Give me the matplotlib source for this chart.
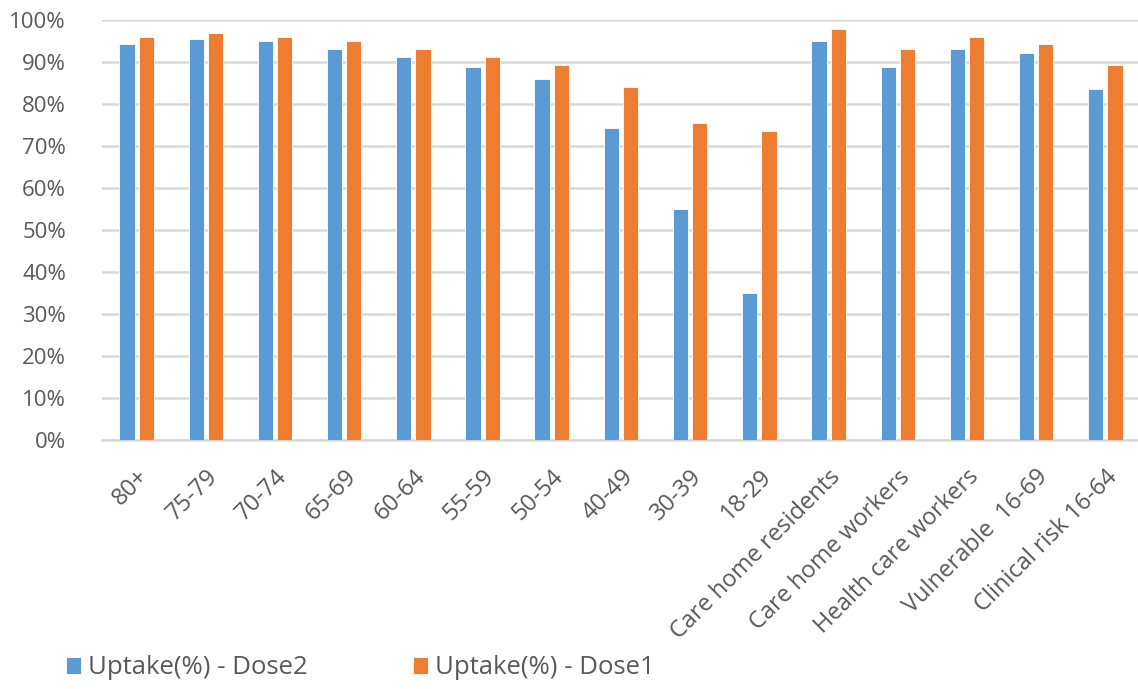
import matplotlib
matplotlib.use("Agg")
import matplotlib.pyplot as plt
import numpy as np
from matplotlib.ticker import PercentFormatter

categories = ["80+", "75-79", "70-74", "65-69", "60-64", "55-59", "50-54", "40-49",
              "30-39", "18-29", "Care home residents", "Care home workers",
              "Health care workers", "Vulnerable  16-69", "Clinical risk 16-64"]
dose2 = [94.4, 95.4, 94.9, 93.0, 91.1, 88.7, 85.9, 74.4, 54.9, 34.9, 94.9, 88.7, 93.0, 92.1, 83.5]
dose1 = [95.9, 96.8, 95.9, 94.9, 93.0, 91.1, 89.2, 84.0, 75.4, 73.5, 97.8, 93.0, 95.9, 94.4, 89.2]
series_names = ["Uptake(%) - Dose2", "Uptake(%) - Dose1"]
yticks = [0, 10, 20, 30, 40, 50, 60, 70, 80, 90, 100]

plt.rcParams['font.family'] = ['Open Sans', 'DejaVu Sans']
blue = "#5B9BD5"
orange = "#ED7D31"
txt = "#595959"

fig = plt.figure(figsize=(11.38, 6.89), dpi=100)
ax = fig.add_axes([102/1138, 1 - 440/689, 1038/1138, 420/689])

x = np.arange(len(categories))
w = 0.22
gap = 0.03
ax.bar(x - w/2 - gap, dose2, width=w, color=blue, edgecolor="white", linewidth=0.6,
       label=series_names[0], zorder=3)
ax.bar(x + w/2 + gap, dose1, width=w, color=orange, edgecolor="white", linewidth=0.6,
       label=series_names[1], zorder=3)

ax.set_xlim(-0.5, len(categories) - 0.5)
ax.set_ylim(0, 100)
ax.set_yticks(yticks)
ax.yaxis.set_major_formatter(PercentFormatter(decimals=0))
ax.grid(axis="y", color="#d9d9d9", linewidth=1.8, zorder=0)
ax.set_axisbelow(True)
for s in ["top", "right", "left"]:
    ax.spines[s].set_visible(False)
ax.spines["bottom"].set_color("#d9d9d9")
ax.spines["bottom"].set_linewidth(1.8)
ax.tick_params(axis="y", length=0, labelsize=16, labelcolor=txt, pad=26)
ax.set_xticks(x)
ax.set_xticklabels(categories, rotation=45, ha="right", rotation_mode="anchor")
ax.tick_params(axis="x", length=0, labelsize=17, labelcolor=txt, pad=18)

leg = fig.legend(loc="center left", bbox_to_anchor=(66/1138, 1 - 668/689), ncol=2, frameon=False,
                 fontsize=18.5, handlelength=0.6, handleheight=0.6, handletextpad=0.25,
                 columnspacing=4.1, borderaxespad=0, borderpad=0)
for t in leg.get_texts():
    t.set_color(txt)

fig.savefig("out.png", dpi=100)
